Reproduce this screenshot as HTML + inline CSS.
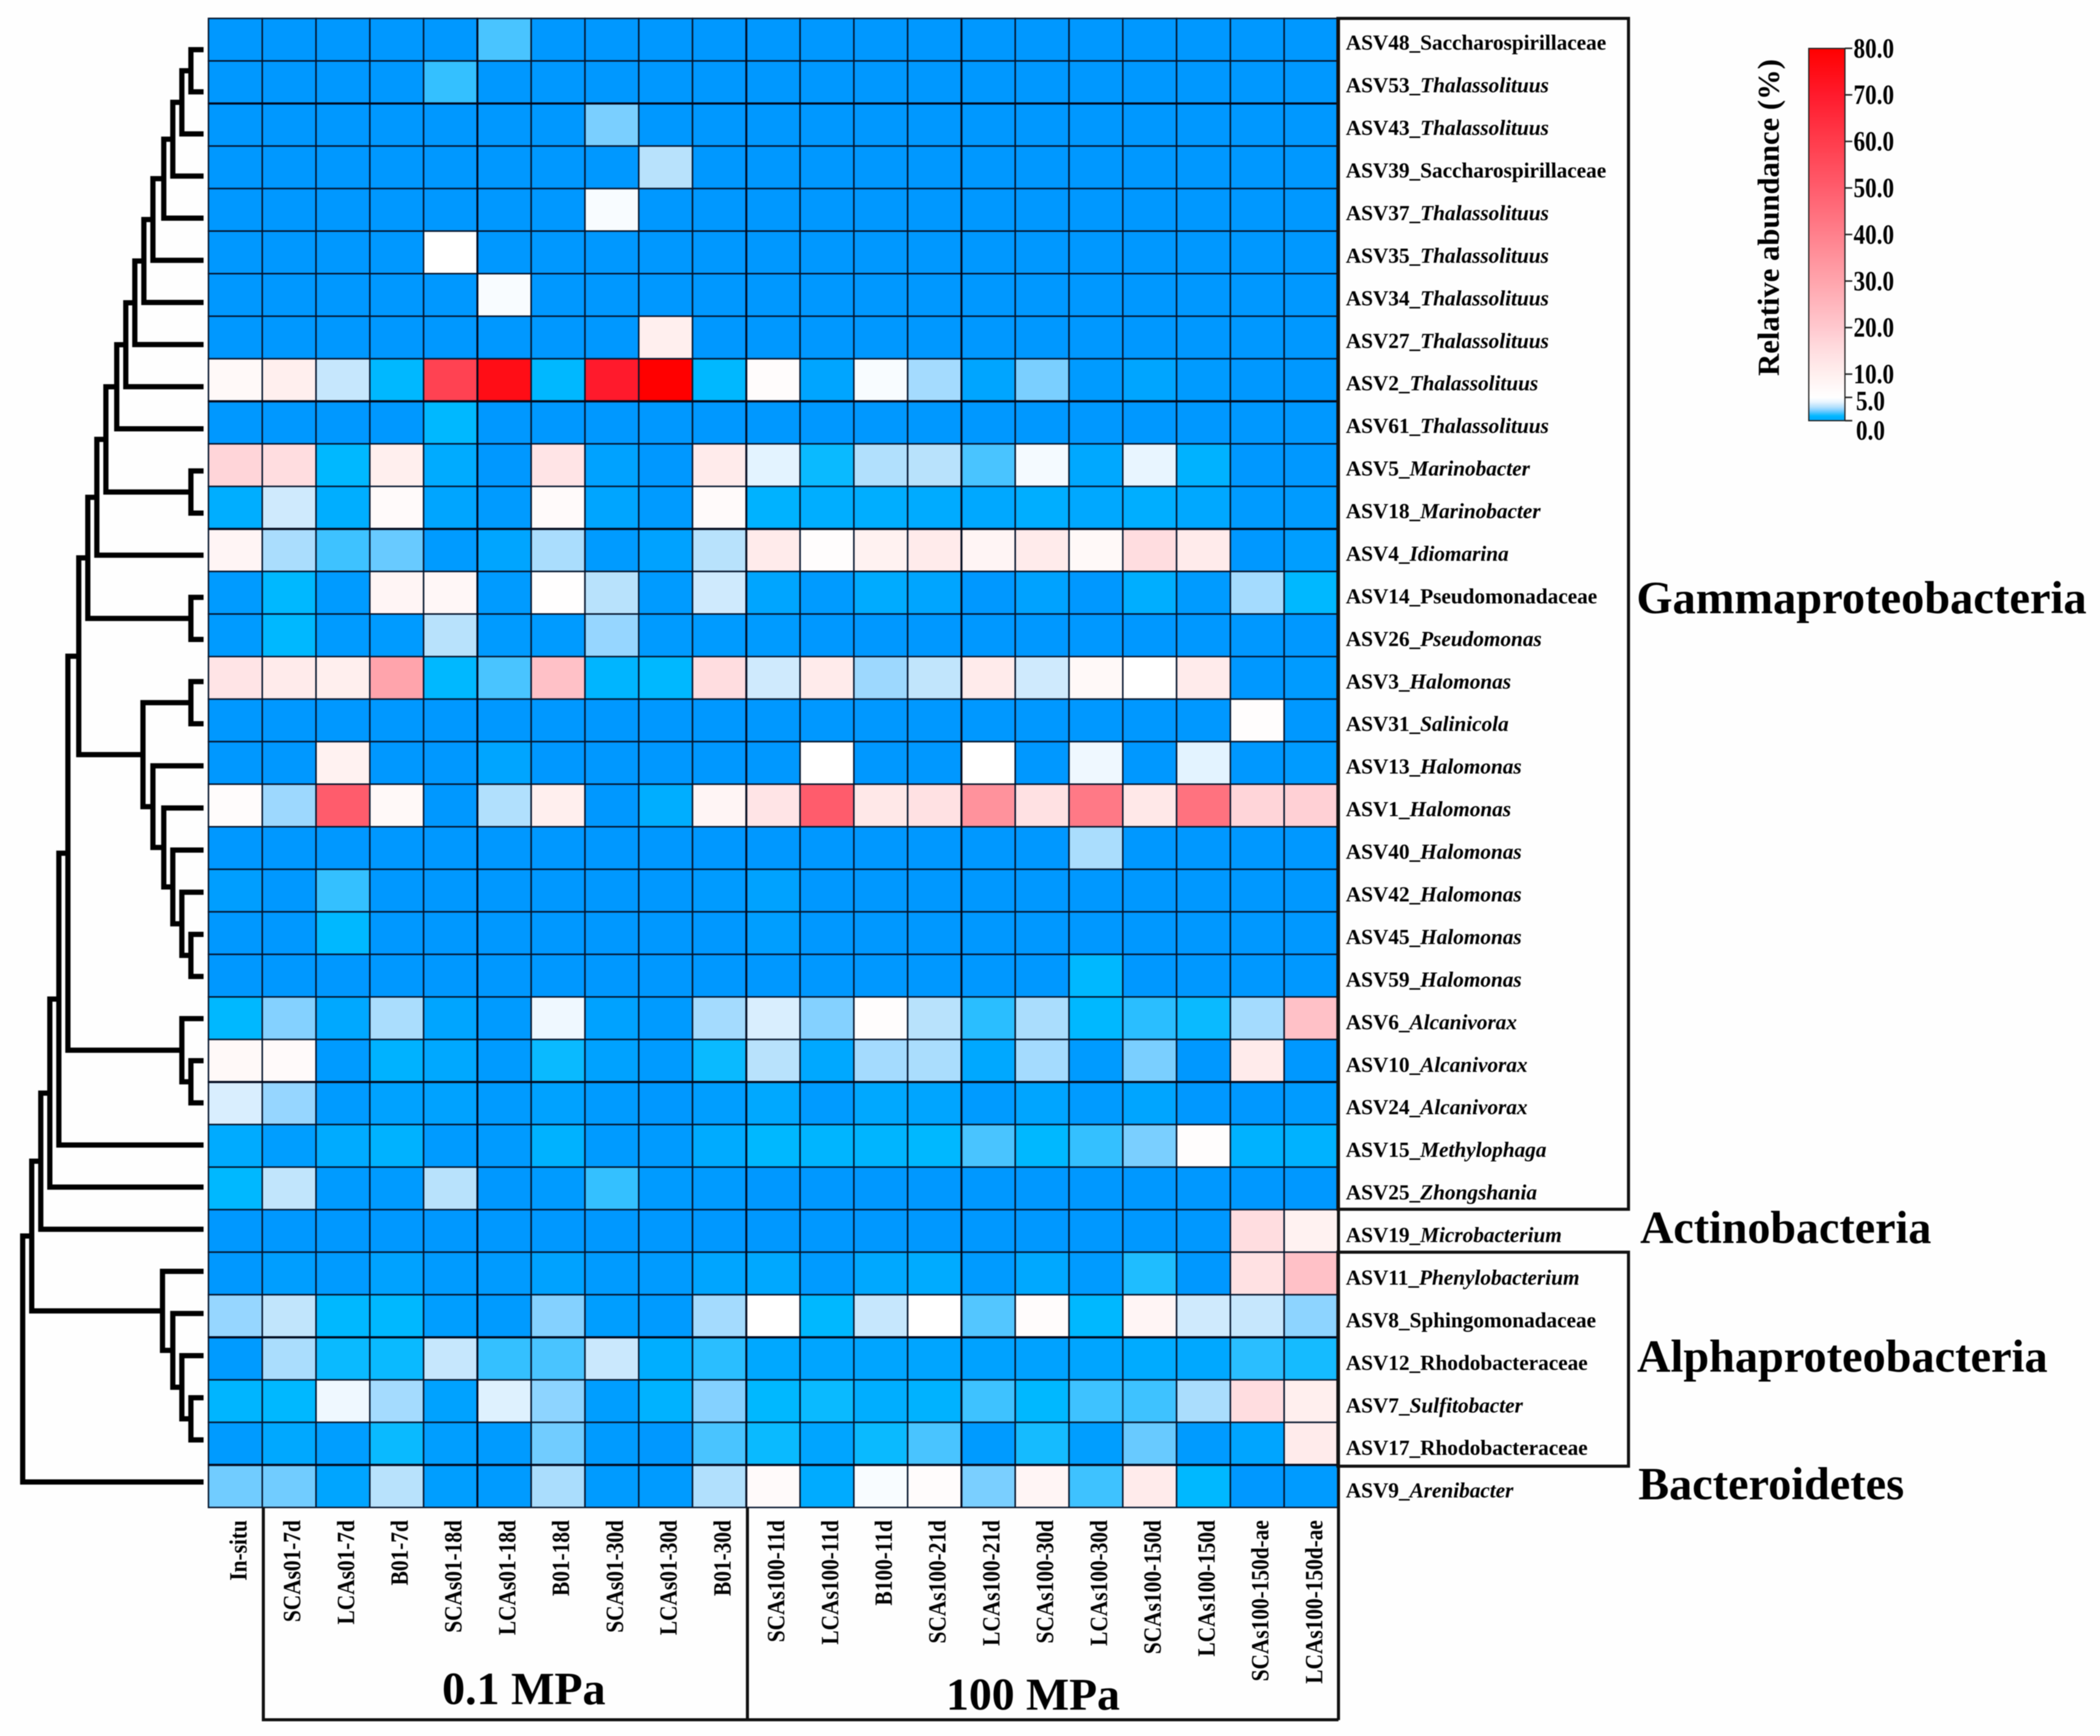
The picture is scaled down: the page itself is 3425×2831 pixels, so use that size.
<!DOCTYPE html>
<html lang="en">
<head>
<meta charset="utf-8">
<title>Relative abundance heatmap</title>
<style>
html,body{margin:0;padding:0;background:#fefefe;}
svg{display:block;filter:blur(0.8px);}
text{font-family:"Liberation Serif",serif;font-weight:bold;fill:#000;}
</style>
</head>
<body>
<svg id="chart" xmlns="http://www.w3.org/2000/svg" width="3425" height="2831" viewBox="0 0 3425 2831">
  <rect x="0" y="0" width="3425" height="2831" fill="#fefefe"/>
  <defs>
    <linearGradient id="cbar" x1="0" y1="0" x2="0" y2="1"></linearGradient>
  </defs>
  <g id="dendrogram"></g>
  <g id="cells"></g>
  <g id="rules"></g>
  <g id="rowLabels"></g>
  <g id="colLabels"></g>

  <g fill="none" stroke="#111" stroke-width="5">
    <rect x="2182" y="30" width="474" height="1942"/>
    <rect x="2182" y="2042" width="474" height="349"/>
    <line x1="2183" y1="30" x2="2183" y2="2805"/>
  </g>
  <g fill="none" stroke="#111" stroke-width="5">
    <path d="M429.500 2458V2804.500H2183"/>
    <line x1="1219" y1="2458" x2="1219" y2="2804"/>
  </g>

  <text x="721" y="2779" font-size="75">0.1 MPa</text>
  <text x="1543" y="2788" font-size="74.500">100 MPa</text>

  <text x="2669" y="1000" font-size="75.700">Gammaproteobacteria</text>
  <text x="2675" y="2027" font-size="75">Actinobacteria</text>
  <text x="2670" y="2237" font-size="75.500">Alphaproteobacteria</text>
  <text x="2672" y="2445" font-size="75.300">Bacteroidetes</text>

  <g id="legend">
    <rect x="2950" y="79" width="59" height="607" fill="url(#cbar)" stroke="#222" stroke-width="2"/>
    <text transform="translate(2901,613) rotate(-90)" font-size="50">Relative abundance (%)</text>
  </g>
</svg>
<script>
const NS = 'http://www.w3.org/2000/svg';

const sampleNames = ['In-situ','SCAs01-7d','LCAs01-7d','B01-7d','SCAs01-18d','LCAs01-18d','B01-18d','SCAs01-30d','LCAs01-30d','B01-30d','SCAs100-11d','LCAs100-11d','B100-11d','SCAs100-21d','LCAs100-21d','SCAs100-30d','LCAs100-30d','SCAs100-150d','LCAs100-150d','SCAs100-150d-ae','LCAs100-150d-ae'];

const rowIds = ['ASV48','ASV53','ASV43','ASV39','ASV37','ASV35','ASV34','ASV27','ASV2','ASV61','ASV5','ASV18','ASV4','ASV14','ASV26','ASV3','ASV31','ASV13','ASV1','ASV40','ASV42','ASV45','ASV59','ASV6','ASV10','ASV24','ASV15','ASV25','ASV19','ASV11','ASV8','ASV12','ASV7','ASV17','ASV9'];

const rowTaxa = ['Saccharospirillaceae','Thalassolituus','Thalassolituus','Saccharospirillaceae','Thalassolituus','Thalassolituus','Thalassolituus','Thalassolituus','Thalassolituus','Thalassolituus','Marinobacter','Marinobacter','Idiomarina','Pseudomonadaceae','Pseudomonas','Halomonas','Salinicola','Halomonas','Halomonas','Halomonas','Halomonas','Halomonas','Halomonas','Alcanivorax','Alcanivorax','Alcanivorax','Methylophaga','Zhongshania','Microbacterium','Phenylobacterium','Sphingomonadaceae','Rhodobacteraceae','Sulfitobacter','Rhodobacteraceae','Arenibacter'];

const abundance = [
[0,0,0,0,0,1.7,0,0,0,0,0,0,0,0,0,0,0,0,0,0,0],
[0,0,0,0,1.5,0,0,0,0,0,0,0,0,0,0,0,0,0,0,0,0],
[0,0,0,0,0,0,0,2.2,0,0,0,0,0,0,0,0,0,0,0,0,0],
[0,0,0,0,0,0,0,0,3,0,0,0,0,0,0,0,0,0,0,0,0],
[0,0,0,0,0,0,0,4.7,0,0,0,0,0,0,0,0,0,0,0,0,0],
[0,0,0,0,5,0,0,0,0,0,0,0,0,0,0,0,0,0,0,0,0],
[0,0,0,0,0,4.7,0,0,0,0,0,0,0,0,0,0,0,0,0,0,0],
[0,0,0,0,0,0,0,0,10,0,0,0,0,0,0,0,0,0,0,0,0],
[7,10,3.3,1,58,75,1,70,80,1,6,0.4,4.7,2.7,0.4,2.2,0.1,0.4,0.1,0,0],
[0,0,0,0,1,0,0,0,0,0,0,0,0,0,0,0,0,0,0,0,0],
[17,15,1,10,0.6,0,13,0.3,0,11,3.9,1.1,2.9,3,1.7,4.5,0.5,4,0.8,0,0],
[0.7,3.5,0.7,6.5,0.4,0.1,6.5,0.4,0.1,6.5,0.8,0.7,0.7,0.6,0.5,0.7,0.5,0.7,0.5,0.1,0.1],
[8,2.8,1.6,2,0.1,0.4,2.8,0.1,0.3,3,11,5.5,9,11,8,11,7,15,11,0,0.2],
[0.1,1,0.1,8,7.5,0.1,5.2,3,0.1,3.5,0.4,0.1,0.6,0.4,0,0.3,0,0.7,0.1,2.7,1],
[0.1,1,0.1,0.1,3,0.1,0.1,2.5,0.1,0.1,0.1,0,0,0,0,0,0,0,0,0,0],
[13,11,10,30,1,1.7,22,0.9,1,15,3.5,11,2.6,3.2,11,3.5,7,5,11,0,0.1],
[0,0,0,0,0,0,0,0,0,0,0,0,0,0,0,0,0,0,0,5.5,0],
[0,0,9,0,0,0.4,0,0,0,0,0,5,0,0,5,0,4.3,0,3.9,0,0.1],
[6,2.6,50,7,0,2.9,10,0,0.7,8,13,50,12,14,35,14,42,12,44,17,18],
[0,0,0,0,0,0,0,0,0,0,0,0,0,0,0,0,2.8,0,0,0,0],
[0.2,0,1.5,0,0,0,0,0,0,0.1,0.3,0,0,0,0,0,0,0,0,0,0],
[0,0,1,0,0,0,0,0,0,0,0.2,0,0,0,0,0,0,0,0,0,0],
[0,0,0,0,0,0,0,0,0,0,0,0,0,0,0,0,1,0,0,0,0],
[1,2.3,0.5,2.8,0.4,0.1,4.3,0.3,0.1,2.7,3.7,2.3,5.5,3,1.4,2.8,1,1.4,1.1,2.7,22],
[7,6.5,0.1,0.8,0.5,0.1,1.1,0.3,0.1,1.1,3,0.5,2.7,2.8,0.5,2.7,0.1,2.2,0,11,0],
[3.7,2.5,0.1,0.3,0.3,0.1,0.3,0.1,0,0.2,0.5,0.1,0.5,0.4,0.1,0.4,0.1,0.4,0,0,0.1],
[0.6,0.2,0.6,0.8,0.1,0.1,0.8,0.1,0.1,0.6,1,0.9,0.9,1,1.7,1,1.5,2.2,5.5,0.8,0.8],
[1,3.2,0.1,0.1,3,0,0.1,1.5,0.1,0.1,0,0,0,0,0,0,0,0,0,0,0],
[0,0,0,0,0,0,0,0,0,0,0,0,0,0,0,0,0,0,0,15,9],
[0,0.2,0.1,0.3,0.1,0.1,0.3,0.1,0.1,0.4,0.5,0.1,0.5,0.6,0.1,0.5,0.1,1.3,0,14,22],
[2.5,3.2,1,1,0.2,0.1,2.3,0.2,0.1,2.7,5,1,3.3,5,1.8,6,1,8,3.5,3.3,2.4],
[0.1,2.8,1.1,1.1,3.3,1.5,1.7,3.4,0.7,1.4,0.5,0.4,0.4,0.4,0.3,0.3,0.4,0.6,0.5,1.4,1.2],
[0.9,1,4.3,2.7,0.3,3.8,2.4,0.2,0.8,2.3,1,1.1,0.7,0.8,1.6,1,1.6,1.6,2.8,15,10],
[0.1,0.5,0.2,1.1,0.2,0.1,2.1,0.1,0,1.7,1.1,0.4,1.1,1.7,0.1,1.2,0.2,2,0.1,0.4,11],
[2.1,2.1,0.4,3,0.2,0.1,2.8,0.1,0.1,2.9,6.5,0.6,4.7,6,2.2,8,1.6,11,1,0,0.1]
];

const colorStopValues = [0,0.5,1,1.5,2,2.5,3,3.5,4,5,10,15,20,30,50,60,70,80];
const colorStopHex = ['#0098ff','#00a8ff','#00b8ff','#34c0ff','#68caff','#96d6ff','#b8e2fc','#cfeafd','#e8f5ff','#ffffff','#ffefee','#ffdde0','#ffc8ce','#ffa4ac','#ff5c6c','#ff3c4c','#ff1a2c','#ff0000'];

const legendTicks = [80,70,60,50,40,30,20,10,5,0];

const heavyRowBoundaries = [2,9,12,25,31,34];
const heavyColBoundaries = [5,10,14];

// Row dendrogram: [merge distance, child, child]; integers are leaf indices.
const alphaClade = [22.7, 29, [17, 30, [12, 31, [7, 32, 33]]]];
const halomonasClade = [33.5, [7, 15, 16], [28, 17, [22, 18, [17, 19, [12, 20, [7, 21, 22]]]]]];
const thalassoLadder = [48, [43, [38, [33, [28, [22, [17, [12, [7, 0, 1], 2], 3], 4], 5], 6], 7], 8], 9];
const upperClade = [64, [59, [54, thalassoLadder, [7, 10, 11]], 12], [7, 13, 14]];
const alcanivoraxClade = [12, 23, [7, 24, 25]];
const dendrogramTree = [100, [95, [90, [85, [80, [75, [69, upperClade, halomonasClade], alcanivoraxClade], 26], 27], 28], alphaClade], 34];

/* axis functions */
const plotLeft = 340, plotTop = 30, cellW = 87.72, cellH = 69.38;
function colX(c) { return plotLeft + c * cellW; }
function rowY(r) { return plotTop + r * cellH; }
function leafY(i) { return 81 + 68.7 * i; }
function distX(d) { return 332 - 2.95 * d; }
function legendY(v) { return 686 - v * 7.59; }

function hexToRgb(h) {
  return [parseInt(h.slice(1,3),16), parseInt(h.slice(3,5),16), parseInt(h.slice(5,7),16)];
}
function colorFor(v) {
  const n = colorStopValues.length;
  if (v <= colorStopValues[0]) return colorStopHex[0];
  if (v >= colorStopValues[n-1]) return colorStopHex[n-1];
  let i = 0;
  while (v > colorStopValues[i+1]) i++;
  const t = (v - colorStopValues[i]) / (colorStopValues[i+1] - colorStopValues[i]);
  const a = hexToRgb(colorStopHex[i]), b = hexToRgb(colorStopHex[i+1]);
  return 'rgb(' + a.map((x,k) => Math.round(x + (b[k]-x)*t)).join(',') + ')';
}

/* heatmap cells */
const cellsG = document.getElementById('cells');
abundance.forEach((row, r) => {
  row.forEach((v, c) => {
    const cell = document.createElementNS(NS, 'rect');
    
    
    cell.setAttribute('x', colX(c));
    cell.setAttribute('y', rowY(r));
    cell.setAttribute('width', cellW);
    cell.setAttribute('height', cellH);
    cell.setAttribute('fill', colorFor(v));
    cell.setAttribute('stroke', '#04142c');
    cell.setAttribute('stroke-width', '2.4');
    cellsG.appendChild(cell);
  });
});

/* heavier gridlines */
const rulesG = document.getElementById('rules');
heavyRowBoundaries.forEach(r => {
  const rule = document.createElementNS(NS, 'line');
  
  
  rule.setAttribute('x1', colX(0));
  rule.setAttribute('x2', colX(abundance[0].length));
  rule.setAttribute('y1', rowY(r));
  rule.setAttribute('y2', rowY(r));
  rule.setAttribute('stroke', '#00081c');
  rule.setAttribute('stroke-width', '3.6');
  rulesG.appendChild(rule);
});
heavyColBoundaries.forEach(c => {
  const rule = document.createElementNS(NS, 'line');
  
  
  rule.setAttribute('x1', colX(c));
  rule.setAttribute('x2', colX(c));
  rule.setAttribute('y1', rowY(0));
  rule.setAttribute('y2', rowY(abundance.length));
  rule.setAttribute('stroke', '#00081c');
  rule.setAttribute('stroke-width', '3.2');
  rulesG.appendChild(rule);
});

/* row labels */
const rowG = document.getElementById('rowLabels');
rowIds.forEach((id, r) => {
  const label = document.createElementNS(NS, 'text');
  
  
  label.setAttribute('font-size', '35');
  label.setAttribute('transform', 'translate(2195,' + (rowY(r) + cellH / 2 + 16.5 + r * 0.06) + ') scale(0.99,1)');
  const idSpan = document.createElementNS(NS, 'tspan');
  idSpan.textContent = id + '_';
  const taxon = rowTaxa[r];
  const taxonSpan = document.createElementNS(NS, 'tspan');
  taxonSpan.textContent = taxon;
  if (!/aceae$/.test(taxon)) taxonSpan.setAttribute('font-style', 'italic');
  label.appendChild(idSpan);
  label.appendChild(taxonSpan);
  rowG.appendChild(label);
});

/* column labels */
const colG = document.getElementById('colLabels');
sampleNames.forEach((name, c) => {
  const label = document.createElementNS(NS, 'text');
  
  
  label.setAttribute('font-size', '40');
  label.setAttribute('text-anchor', 'end');
  label.setAttribute('transform', 'translate(' + (colX(c) + cellW / 2 + 18) + ',2479) rotate(-90) scale(0.87,1)');
  label.textContent = name;
  colG.appendChild(label);
});

/* dendrogram */
const dendG = document.getElementById('dendrogram');
function drawNode(node) {
  if (typeof node === 'number') return { x: distX(0), y: leafY(node) };
  const a = drawNode(node[1]);
  const b = drawNode(node[2]);
  const x = distX(node[0]);
  const branch = document.createElementNS(NS, 'path');
  
  
  branch.setAttribute('d', 'M' + a.x + ' ' + a.y + 'H' + x + 'V' + b.y + 'H' + b.x);
  branch.setAttribute('fill', 'none');
  branch.setAttribute('stroke', '#000');
  branch.setAttribute('stroke-width', '8.5');
  branch.setAttribute('stroke-linejoin', 'miter');
  dendG.appendChild(branch);
  return { x: x, y: (a.y + b.y) / 2 };
}
drawNode(dendrogramTree);

/* colour legend */
const grad = document.getElementById('cbar');
for (let v = 80; v >= 0; v -= 0.5) {
  const stop = document.createElementNS(NS, 'stop');
  stop.setAttribute('offset', ((80 - v) / 80).toFixed(5));
  stop.setAttribute('stop-color', colorFor(Math.max(v, 0.7)));
  grad.appendChild(stop);
}
const legendG = document.getElementById('legend');
legendTicks.forEach(v => {
  const y = legendY(v);
  const tick = document.createElementNS(NS, 'line');
  
  
  tick.setAttribute('x1', 3009);
  tick.setAttribute('x2', 3021);
  tick.setAttribute('y1', y);
  tick.setAttribute('y2', y);
  tick.setAttribute('stroke', '#222');
  tick.setAttribute('stroke-width', '2.5');
  legendG.appendChild(tick);
  const label = document.createElementNS(NS, 'text');
  
  
  label.setAttribute('font-size', '45');
  const dy = v === 0 ? 31 : (v === 5 ? 21 : 15);
  const lx = v < 10 ? 3027 : 3023;
  label.setAttribute('transform', 'translate(' + lx + ',' + (y + dy) + ') scale(0.84,1)');
  label.textContent = v.toFixed(1);
  legendG.appendChild(label);
});
</script>
</body>
</html>
